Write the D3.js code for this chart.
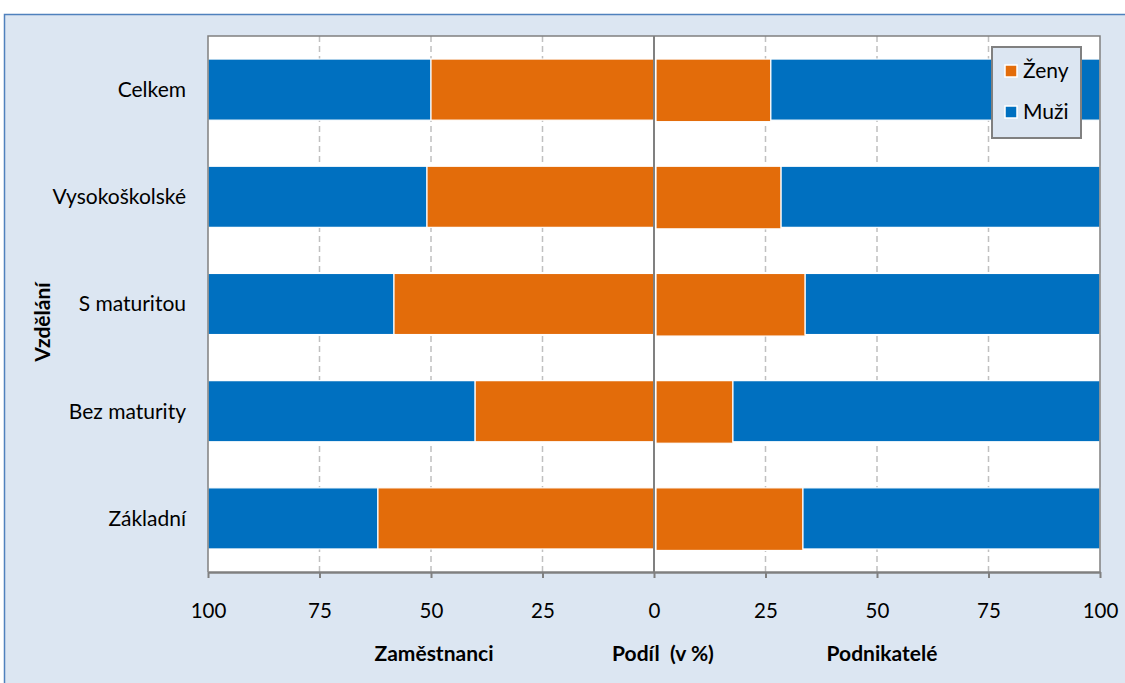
<!DOCTYPE html>
<html><head><meta charset="utf-8">
<script src="https://cdn.jsdelivr.net/npm/d3@7"></script>
<style>body{margin:0;background:#fff}svg{display:block}text{font-family:Lato,"Open Sans",sans-serif}</style>
</head><body><svg id="c" width="1125" height="683"></svg>
<script>
const categories = ["Celkem","Vysokoškolské","S maturitou","Bez maturity","Základní"];
const zamestnanciZeny = [50.0, 50.9, 58.3, 40.1, 61.9];
const podnikateleZeny = [26.2, 28.5, 33.9, 17.7, 33.4];
const ticks = [100, 75, 50, 25, 0, 25, 50, 75, 100];
const seriesNames = ["Ženy","Muži"];
const colors = {"Ženy":"#e36c0a","Muži":"#0070c0"};

const svg = d3.select("#c");
svg.append("rect").attr("x",4.5).attr("y",14.5).attr("width",1130).attr("height",680)
  .attr("fill","#dce6f2").attr("stroke","#4f81bd").attr("stroke-width",1.5);

const L=208, R=1100, T=36, B=572;
const x = d3.scaleLinear().domain([-100,100]).range([L,R]);
const y = d3.scaleBand().domain(categories).range([T,B]).paddingInner(0.43).paddingOuter(0.215);

svg.append("rect").attr("x",L).attr("y",T).attr("width",R-L).attr("height",B-T).attr("fill","#fff");

const gv = [-75,-50,-25,25,50,75];
svg.append("g").selectAll("line").data(gv).join("line")
  .attr("x1",d=>x(d)).attr("x2",d=>x(d)).attr("y1",T).attr("y2",B)
  .attr("stroke","#c0c0c0").attr("stroke-width",1.5).attr("stroke-dasharray","6,4");

const rows = categories.map((c,i)=>({c, lz:zamestnanciZeny[i], rz:podnikateleZeny[i]}));
const g = svg.append("g");
rows.forEach(r=>{
  const yy=y(r.c), h=y.bandwidth();
  g.append("rect").attr("x",x(-100)).attr("y",yy).attr("width",x(-r.lz)-x(-100)).attr("height",h).attr("fill",colors["Muži"]).attr("stroke","#fff").attr("stroke-width",1.2);
  g.append("rect").attr("x",x(-r.lz)).attr("y",yy).attr("width",x(0)-x(-r.lz)).attr("height",h).attr("fill",colors["Ženy"]).attr("stroke","#fff").attr("stroke-width",1.2);
  g.append("rect").attr("x",x(0)+2).attr("y",yy).attr("width",x(r.rz)-x(0)-2).attr("height",h+1.5).attr("fill",colors["Ženy"]).attr("stroke","#fff").attr("stroke-width",1.2);
  g.append("rect").attr("x",x(r.rz)).attr("y",yy).attr("width",x(100)-x(r.rz)).attr("height",h).attr("fill",colors["Muži"]).attr("stroke","#fff").attr("stroke-width",1.2);
});

svg.append("line").attr("x1",x(0)).attr("x2",x(0)).attr("y1",T).attr("y2",B).attr("stroke","#808080").attr("stroke-width",2);
svg.append("path").attr("d",`M${L},${B}V${T}H${R}V${B}`).attr("fill","none").attr("stroke","#808080").attr("stroke-width",1.5);

const ax = svg.append("g").attr("transform",`translate(0,${B})`)
  .call(d3.axisBottom(x).tickValues([-100,-75,-50,-25,0,25,50,75,100]).tickSize(6).tickSizeOuter(0).tickPadding(25)
    .tickFormat((d,i)=>ticks[i]));
ax.select(".domain").attr("stroke","#808080").attr("stroke-width",2.5);
ax.selectAll(".tick line").attr("stroke","#808080").attr("stroke-width",2);
ax.selectAll(".tick text").attr("font-size",20.5).attr("fill","#000").attr("font-family","Lato");

svg.append("g").selectAll("text").data(categories).join("text")
  .attr("x",186).attr("y",d=>y(d)+y.bandwidth()/2).attr("dy","0.35em")
  .attr("text-anchor","end").attr("font-size",21).text(d=>d);

svg.append("text").attr("transform","translate(50,322) rotate(-90)").attr("text-anchor","middle")
  .attr("font-size",21).attr("font-weight","bold").text("Vzdělání");

[["Zaměstnanci",434],["Podíl  (v %)",663],["Podnikatelé",882]].forEach(([t,cx])=>{
  svg.append("text").attr("x",cx).attr("y",661).attr("text-anchor","middle").attr("font-size",21).attr("font-weight","bold").attr("xml:space","preserve").text(t);
});

const lg = svg.append("g");
lg.append("rect").attr("x",992).attr("y",47).attr("width",89).attr("height",91).attr("fill","#dce6f2").attr("stroke","#808080").attr("stroke-width",2);
seriesNames.forEach((s,i)=>{
  const cy = 71 + i*41;
  lg.append("rect").attr("x",1005).attr("y",cy-6).attr("width",12).attr("height",12).attr("fill",colors[s]).attr("stroke","#fff").attr("stroke-width",1.5);
  lg.append("text").attr("x",1023).attr("y",cy).attr("dy","0.35em").attr("font-size",21).text(s);
});
</script></body></html>
